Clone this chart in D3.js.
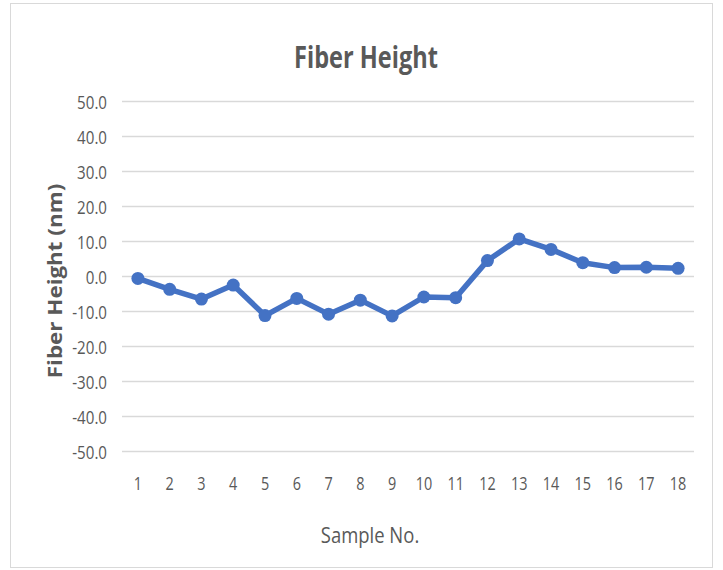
<!DOCTYPE html>
<html>
<head>
<meta charset="utf-8">
<script src="https://cdn.jsdelivr.net/npm/d3@7"></script>
<style>
  body { margin: 0; background: #fff; }
  text { font-family: "Open Sans", sans-serif; fill: #595959; }
</style>
</head>
<body>
<div id="chart"></div>
<script>
// data
const samples = ['1', '2', '3', '4', '5', '6', '7', '8', '9', '10', '11', '12', '13', '14', '15', '16', '17', '18'];
const fiberHeight = [-0.7, -3.8, -6.6, -2.6, -11.3, -6.4, -10.9, -6.9, -11.4, -6.0, -6.2, 4.4, 10.6, 7.6, 3.8, 2.4, 2.5, 2.2];
const yTicks = [50, 40, 30, 20, 10, 0, -10, -20, -30, -40, -50];

const width = 723, height = 570;
const margin = {top: 101, right: 29, bottom: 119, left: 122};

const svg = d3.select('#chart').append('svg')
  .attr('width', width)
  .attr('height', height);

// outer frame
svg.append('rect')
  .attr('x', 10.5).attr('y', 3.5)
  .attr('width', 702).attr('height', 564)
  .attr('fill', '#fff')
  .attr('stroke', '#d9d9d9')
  .attr('stroke-width', 1);

const x = d3.scaleBand()
  .domain(samples)
  .range([margin.left, width - margin.right]);

const y = d3.scaleLinear()
  .domain([-50, 50])
  .range([height - margin.bottom, margin.top]);

// text in the source is narrow, so every label gets its own x-scale
function label(sel, px, py, rot, sx) {
  return sel.append('text')
    .attr('transform', `translate(${px},${py})` + (rot ? ` rotate(${rot})` : '') + ` scale(${sx},1)`);
}

// gridlines
svg.append('g')
  .selectAll('line')
  .data(yTicks)
  .enter().append('line')
  .attr('x1', margin.left)
  .attr('x2', width - margin.right)
  .attr('y1', d => Math.round(y(d)) + 0.5)
  .attr('y2', d => Math.round(y(d)) + 0.5)
  .attr('stroke', '#d9d9d9')
  .attr('stroke-width', 1.5);

// y tick labels
const yLab = svg.append('g').attr('font-size', 18).attr('text-anchor', 'end');
yTicks.forEach(function (d) {
  label(yLab, 107, y(d) + 8, 0, 0.84).text(d.toFixed(1));
});

// x tick labels
const xLab = svg.append('g').attr('font-size', 19).attr('text-anchor', 'middle');
samples.forEach(function (d) {
  label(xLab, x(d) + x.bandwidth() / 2, 490, 0, 0.76).text(d);
});

// line
const line = d3.line()
  .x((d, i) => x(samples[i]) + x.bandwidth() / 2)
  .y(d => y(d));

svg.append('path')
  .datum(fiberHeight)
  .attr('fill', 'none')
  .attr('stroke', '#4472c4')
  .attr('stroke-width', 5.5)
  .attr('stroke-linejoin', 'round')
  .attr('d', line);

svg.append('g')
  .selectAll('circle')
  .data(fiberHeight)
  .enter().append('circle')
  .attr('cx', (d, i) => x(samples[i]) + x.bandwidth() / 2)
  .attr('cy', d => y(d))
  .attr('r', 6.5)
  .attr('fill', '#4472c4');

// titles
label(svg, 366, 68, 0, 0.76).attr('text-anchor', 'middle')
  .attr('font-size', 31).attr('font-weight', 700).text('Fiber Height');

label(svg, 370, 543, 0, 0.84).attr('text-anchor', 'middle')
  .attr('font-size', 22).text('Sample No.');

label(svg, 62, 281, -90, 1.12).attr('text-anchor', 'middle')
  .attr('font-size', 20).attr('font-weight', 700).text('Fiber Height (nm)');
</script>
</body>
</html>
